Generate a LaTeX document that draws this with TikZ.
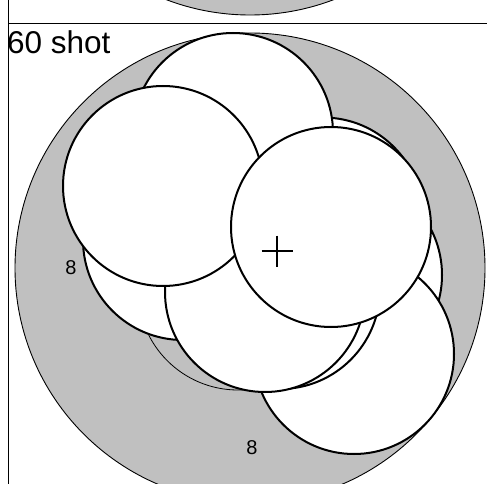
\documentclass[tikz,border=0pt]{standalone}
\usepackage{fontspec}
\setmainfont{Liberation Sans}
\definecolor{shade}{HTML}{C0C0C0}
\begin{document}
\begin{tikzpicture}[x=1pt,y=-1pt,
  shot/.style={draw=black, line width=2pt, fill=white},
  ring/.style={draw=black, line width=0.9pt, fill=shade},
  frame/.style={draw=black, line width=1pt},
  lbl/.style={inner sep=0pt, font=\fontsize{20}{20}\selectfont}]
\useasboundingbox (0,0) rectangle (487,484);
\clip (0,0) rectangle (487,484);
% previous panel's target (bottom part)
\draw[ring] (250,-220) circle[radius=235pt];
% this panel's target
\draw[ring] (250,268) circle[radius=235pt];
% panel frame
\draw[frame] (8,0) -- (8,484);
\draw[frame] (8,24) -- (487,24);
% thin outline under the shots
\draw[line width=0.8pt] (238,290) circle[radius=100pt];
% shots, bottom to top
\draw[shot] (342,275) circle[radius=100pt];
\draw[shot] (354,354) circle[radius=100pt];
\draw[shot] (280,289) circle[radius=100pt];
\draw[shot] (183,240) circle[radius=100pt];
\draw[shot] (323,217.5) circle[radius=100pt];
\draw[shot] (233,133) circle[radius=100pt];
\draw[shot] (265,292) circle[radius=100pt];
\draw[shot] (163,186) circle[radius=100pt];
\draw[shot] (331,227) circle[radius=100pt];
% cross
\draw[line width=1.1pt] (261.5,251) -- (292.5,251) (277,235.5) -- (277,266.5);
% labels
\node[lbl] (s1) at (71,268) {8};
\node[lbl] (s2) at (252,448) {8};
\node[inner sep=0pt, anchor=base west, font=\fontsize{31.5}{31.5}\selectfont] (title) at (7,54) {60 shot};
\end{tikzpicture}
\end{document}
